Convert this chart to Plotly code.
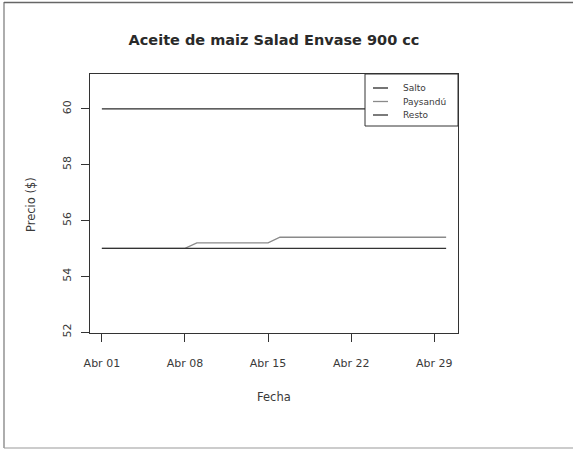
import plotly.graph_objects as go
import pandas as pd

# ---- data ----
fechas = pd.date_range("2010-04-01", "2010-04-30", freq="D")
salto = [60.0] * 30
paysandu = [55.0] * 8 + [55.2] * 7 + [55.4] * 15
resto = [55.0] * 30
series_names = ["Salto", "Paysandú", "Resto"]
series_values = [salto, paysandu, resto]
series_colors = ["#2a2a2a", "#8a8a8a", "#333333"]
tick_dates = ["2010-04-01", "2010-04-08", "2010-04-15", "2010-04-22", "2010-04-29"]
tick_labels = ["Abr 01", "Abr 08", "Abr 15", "Abr 22", "Abr 29"]
y_ticks = [52, 54, 56, 58, 60]

FONT = "DejaVu Sans"
TXT = "#3a3a3a"

fig = go.Figure()
for name, vals, col in zip(series_names, series_values, series_colors):
    fig.add_trace(go.Scatter(x=fechas, y=vals, mode="lines", name=name,
                             line=dict(color=col, width=1.3), showlegend=False,
                             hoverinfo="skip"))

L, R, T, B = 90, 115, 74, 117
W, H = 573, 450
pw, ph = W - L - R, H - T - B

def px(xp):
    return (xp - L) / pw

def py(yp):
    return (H - B - yp) / ph

shapes = []
annotations = []
# manual legend
lx0, lx1, ly0, ly1 = 365, 458, 74, 126
shapes.append(dict(type="rect", xref="paper", yref="paper",
                   x0=px(lx0), x1=px(lx1), y0=py(ly1), y1=py(ly0),
                   line=dict(color="#333333", width=1), fillcolor="white", layer="above"))
for i, (name, col) in enumerate(zip(series_names, series_colors)):
    yy = 88 + i * 13.5
    shapes.append(dict(type="line", xref="paper", yref="paper",
                       x0=px(373), x1=px(388), y0=py(yy), y1=py(yy),
                       line=dict(color=col, width=1.3), layer="above"))
    annotations.append(dict(x=px(401), y=py(yy), xref="paper", yref="paper",
                            text=name, showarrow=False, xanchor="left", yanchor="middle",
                            font=dict(family=FONT, size=9, color=TXT)))

# axis titles as annotations for exact placement
annotations.append(dict(x=px(274), y=py(397), xref="paper", yref="paper", text="Fecha",
                        showarrow=False, xanchor="center", yanchor="middle",
                        font=dict(family=FONT, size=11.5, color=TXT)))
annotations.append(dict(x=px(31), y=py(205), xref="paper", yref="paper", text="Precio ($)",
                        showarrow=False, xanchor="center", yanchor="middle", textangle=-90,
                        font=dict(family=FONT, size=11.5, color=TXT)))

# outer frame (scanned page border)
shapes.append(dict(type="line", xref="paper", yref="paper", x0=px(4), x1=px(4),
                   y0=py(448), y1=py(2), line=dict(color="#777777", width=1.2)))
shapes.append(dict(type="line", xref="paper", yref="paper", x0=px(4), x1=px(573),
                   y0=py(2.5), y1=py(2.5), line=dict(color="#666666", width=1.5)))
shapes.append(dict(type="line", xref="paper", yref="paper", x0=px(4), x1=px(573),
                   y0=py(448), y1=py(448), line=dict(color="#999999", width=1.2)))

fig.update_layout(
    width=W, height=H,
    margin=dict(l=L, r=R, t=T, b=B, autoexpand=False),
    paper_bgcolor="white", plot_bgcolor="white",
    font=dict(family=FONT, color=TXT, size=11),
    title=dict(text="<b>Aceite de maiz Salad Envase 900 cc</b>", xref="paper", x=px(274),
               xanchor="center", yref="container", y=1 - 40 / H, yanchor="middle",
               font=dict(family="DejaVu Sans", size=14.5, color="#2a2a2a")),
    shapes=shapes, annotations=annotations,
    xaxis=dict(range=["2010-03-31", "2010-05-01"], tickvals=tick_dates, ticktext=tick_labels,
               showgrid=False, zeroline=False, showline=True, linecolor="#333333",
               mirror=True, ticks="outside", ticklen=8, tickcolor="#333333",
               ticklabelstandoff=12,
               tickfont=dict(family=FONT, size=11, color=TXT)),
    yaxis=dict(range=[51.97, 61.25], tickvals=y_ticks, tickangle=-90,
               showgrid=False, zeroline=False, showline=True, linecolor="#333333",
               mirror=True, ticks="outside", ticklen=8, tickcolor="#333333",
               ticklabelstandoff=6,
               tickfont=dict(family=FONT, size=11, color=TXT)),
)

fig.write_html("out.html", config={"displayModeBar": False},
               post_script="document.body.style.margin='0';")
